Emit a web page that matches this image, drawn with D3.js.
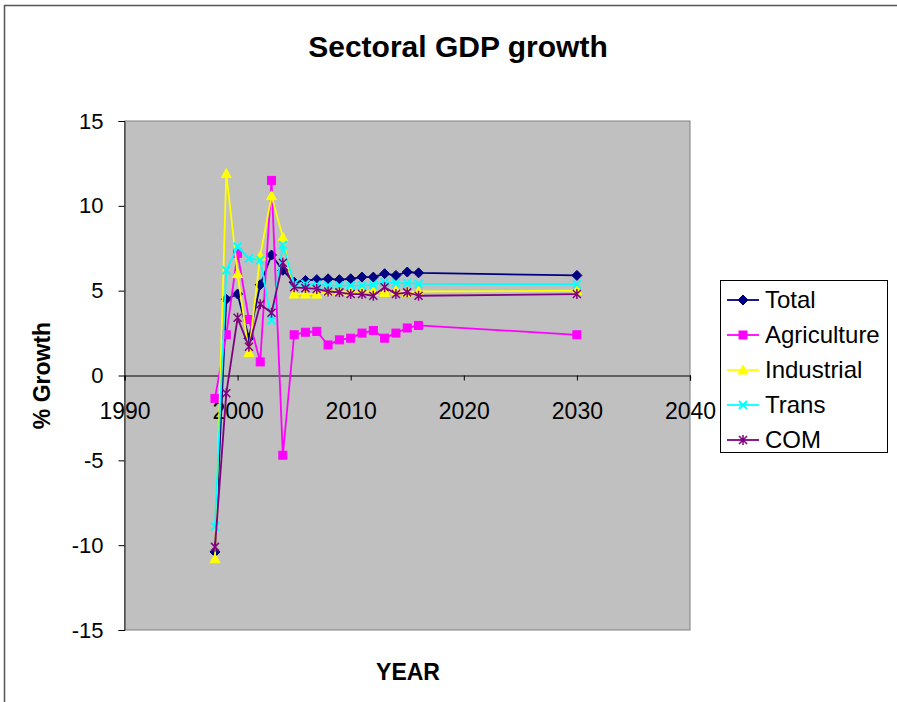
<!DOCTYPE html>
<html>
<head>
<meta charset="utf-8">
<script src="https://cdn.jsdelivr.net/npm/d3@7/dist/d3.min.js"></script>
<style>
  html, body { margin: 0; padding: 0; background: #ffffff; }
  svg { display: block; font-family: "Liberation Sans", Arial, sans-serif; }
</style>
</head>
<body>
<svg id="chart" width="897" height="702"></svg>
<script>
// Sectoral GDP growth, % per year
const years = [1998, 1999, 2000, 2001, 2002, 2003, 2004, 2005, 2006, 2007,
               2008, 2009, 2010, 2011, 2012, 2013, 2014, 2015, 2016, 2030];
const total = [-10.4, 4.5, 4.8, 2.2, 5.35, 7.1, 6.2, 5.5, 5.6, 5.65,
               5.7, 5.65, 5.7, 5.8, 5.8, 6.0, 5.9, 6.1, 6.05, 5.9];
const agriculture = [-1.35, 2.4, 7.2, 3.3, 0.8, 11.5, -4.7, 2.4, 2.55, 2.6,
                     1.8, 2.1, 2.2, 2.5, 2.65, 2.2, 2.5, 2.8, 2.95, 2.4];
const industrial = [-10.8, 11.9, 6.0, 1.35, 7.05, 10.6, 8.15, 4.8, 4.8, 4.8,
                    4.95, 4.95, 4.95, 4.95, 4.95, 4.9, 5.0, 4.9, 4.95, 5.0];
const trans = [-8.9, 6.2, 7.6, 6.9, 6.8, 3.25, 7.7, 5.4, 5.4, 5.35,
               5.3, 5.3, 5.3, 5.3, 5.35, 5.5, 5.45, 5.45, 5.4, 5.37];
const com = [-10.1, -1.05, 3.4, 1.7, 4.2, 3.7, 6.65, 5.2, 5.15, 5.1,
             4.95, 4.9, 4.8, 4.8, 4.7, 5.2, 4.8, 4.9, 4.7, 4.8];

const seriesNames = ["Total", "Agriculture", "Industrial", "Trans", "COM"];
const seriesValues = [total, agriculture, industrial, trans, com];
const seriesColors = ["#000080", "#ff00ff", "#ffff00", "#00ffff", "#800080"];
const seriesMarkers = ["diamond", "square", "triangle", "cross", "star"];

const xTicks = [1990, 2000, 2010, 2020, 2030, 2040];
const yTicks = [-15, -10, -5, 0, 5, 10, 15];

const svg = d3.select("#chart");

// chart area frame (extends past the window on the right and bottom)
svg.append("rect")
  .attr("x", 4.5).attr("y", 5.5)
  .attr("width", 1000).attr("height", 1000)
  .attr("fill", "#ffffff").attr("stroke", "#555555").attr("stroke-width", 1.5);

const plot = { left: 124.5, right: 690, top: 121, bottom: 630 };

const x = d3.scaleLinear().domain([1990, 2040]).range([plot.left, plot.right]);
const y = d3.scaleLinear().domain([-15, 15]).range([plot.bottom, plot.top]);

// plot background
svg.append("rect")
  .attr("x", plot.left).attr("y", plot.top)
  .attr("width", plot.right - plot.left).attr("height", plot.bottom - plot.top)
  .attr("fill", "#c0c0c0").attr("stroke", "#808080").attr("stroke-width", 1);

// title
svg.append("text")
  .attr("x", 458).attr("y", 57)
  .attr("text-anchor", "middle")
  .attr("font-size", 30).attr("font-weight", "bold")
  .text("Sectoral GDP growth");

const plainNum = d => String(d);

// y axis
const yAxis = svg.append("g")
  .attr("transform", `translate(${plot.left},0)`)
  .call(d3.axisLeft(y).tickValues(yTicks).tickSize(6).tickPadding(15).tickFormat(plainNum));
yAxis.selectAll("text").attr("font-size", 22).attr("fill", "#000").style("font-family", "'Liberation Sans', Arial, sans-serif");
yAxis.selectAll("line").attr("stroke", "#000");
yAxis.select(".domain").attr("stroke", "#222");

// x axis drawn along the zero line
const xAxis = svg.append("g")
  .attr("transform", `translate(0,${y(0)})`)
  .call(d3.axisBottom(x).tickValues(xTicks).tickSize(5).tickPadding(22).tickFormat(plainNum));
xAxis.selectAll("text").attr("font-size", 23).attr("fill", "#000").style("font-family", "'Liberation Sans', Arial, sans-serif");
xAxis.selectAll("line").attr("stroke", "#000");
xAxis.select(".domain").attr("stroke", "#000").attr("stroke-width", 1.2);

// axis titles
svg.append("text")
  .attr("transform", `translate(50,${(plot.top + plot.bottom) / 2}) rotate(-90)`)
  .attr("text-anchor", "middle")
  .attr("font-size", 23).attr("font-weight", "bold")
  .text("% Growth");

svg.append("text")
  .attr("x", 408).attr("y", 680)
  .attr("text-anchor", "middle")
  .attr("font-size", 23).attr("font-weight", "bold")
  .text("YEAR");

// marker drawing
function drawMarker(g, kind, color, cx, cy) {
  if (kind === "diamond") {
    g.append("path")
      .attr("d", `M${cx},${cy - 5}L${cx + 5},${cy}L${cx},${cy + 5}L${cx - 5},${cy}Z`)
      .attr("fill", color).attr("stroke", color);
  } else if (kind === "square") {
    g.append("rect")
      .attr("x", cx - 4).attr("y", cy - 4).attr("width", 8).attr("height", 8)
      .attr("fill", color).attr("stroke", color);
  } else if (kind === "triangle") {
    g.append("path")
      .attr("d", `M${cx},${cy - 5}L${cx + 5},${cy + 4}L${cx - 5},${cy + 4}Z`)
      .attr("fill", color).attr("stroke", color);
  } else if (kind === "cross") {
    g.append("path")
      .attr("d", `M${cx - 4},${cy - 4}L${cx + 4},${cy + 4}M${cx + 4},${cy - 4}L${cx - 4},${cy + 4}`)
      .attr("fill", "none").attr("stroke", color).attr("stroke-width", 2);
  } else if (kind === "star") {
    g.append("path")
      .attr("d", `M${cx - 4},${cy - 4}L${cx + 4},${cy + 4}M${cx + 4},${cy - 4}L${cx - 4},${cy + 4}M${cx},${cy - 5}L${cx},${cy + 5}`)
      .attr("fill", "none").attr("stroke", color).attr("stroke-width", 1.5);
  }
}

const line = d3.line().x(d => x(d[0])).y(d => y(d[1]));

seriesValues.forEach((vals, i) => {
  const pts = years.map((yr, j) => [yr, vals[j]]);
  const g = svg.append("g").attr("class", "series");
  g.append("path")
    .attr("d", line(pts))
    .attr("fill", "none")
    .attr("stroke", seriesColors[i])
    .attr("stroke-width", 1.8)
    .attr("stroke-linejoin", "round");
  pts.forEach(p => drawMarker(g, seriesMarkers[i], seriesColors[i], x(p[0]), y(p[1])));
});

// legend
const legend = svg.append("g");
legend.append("rect")
  .attr("x", 720.5).attr("y", 280.5).attr("width", 167).attr("height", 172)
  .attr("fill", "#ffffff").attr("stroke", "#000").attr("stroke-width", 1);

seriesNames.forEach((name, i) => {
  const cy = 300 + i * 35;
  legend.append("line")
    .attr("x1", 727).attr("x2", 759).attr("y1", cy).attr("y2", cy)
    .attr("stroke", seriesColors[i]).attr("stroke-width", 1.8);
  drawMarker(legend, seriesMarkers[i], seriesColors[i], 743, cy);
  legend.append("text")
    .attr("x", 765).attr("y", cy + 8)
    .attr("font-size", 24)
    .text(name);
});
</script>
</body>
</html>
